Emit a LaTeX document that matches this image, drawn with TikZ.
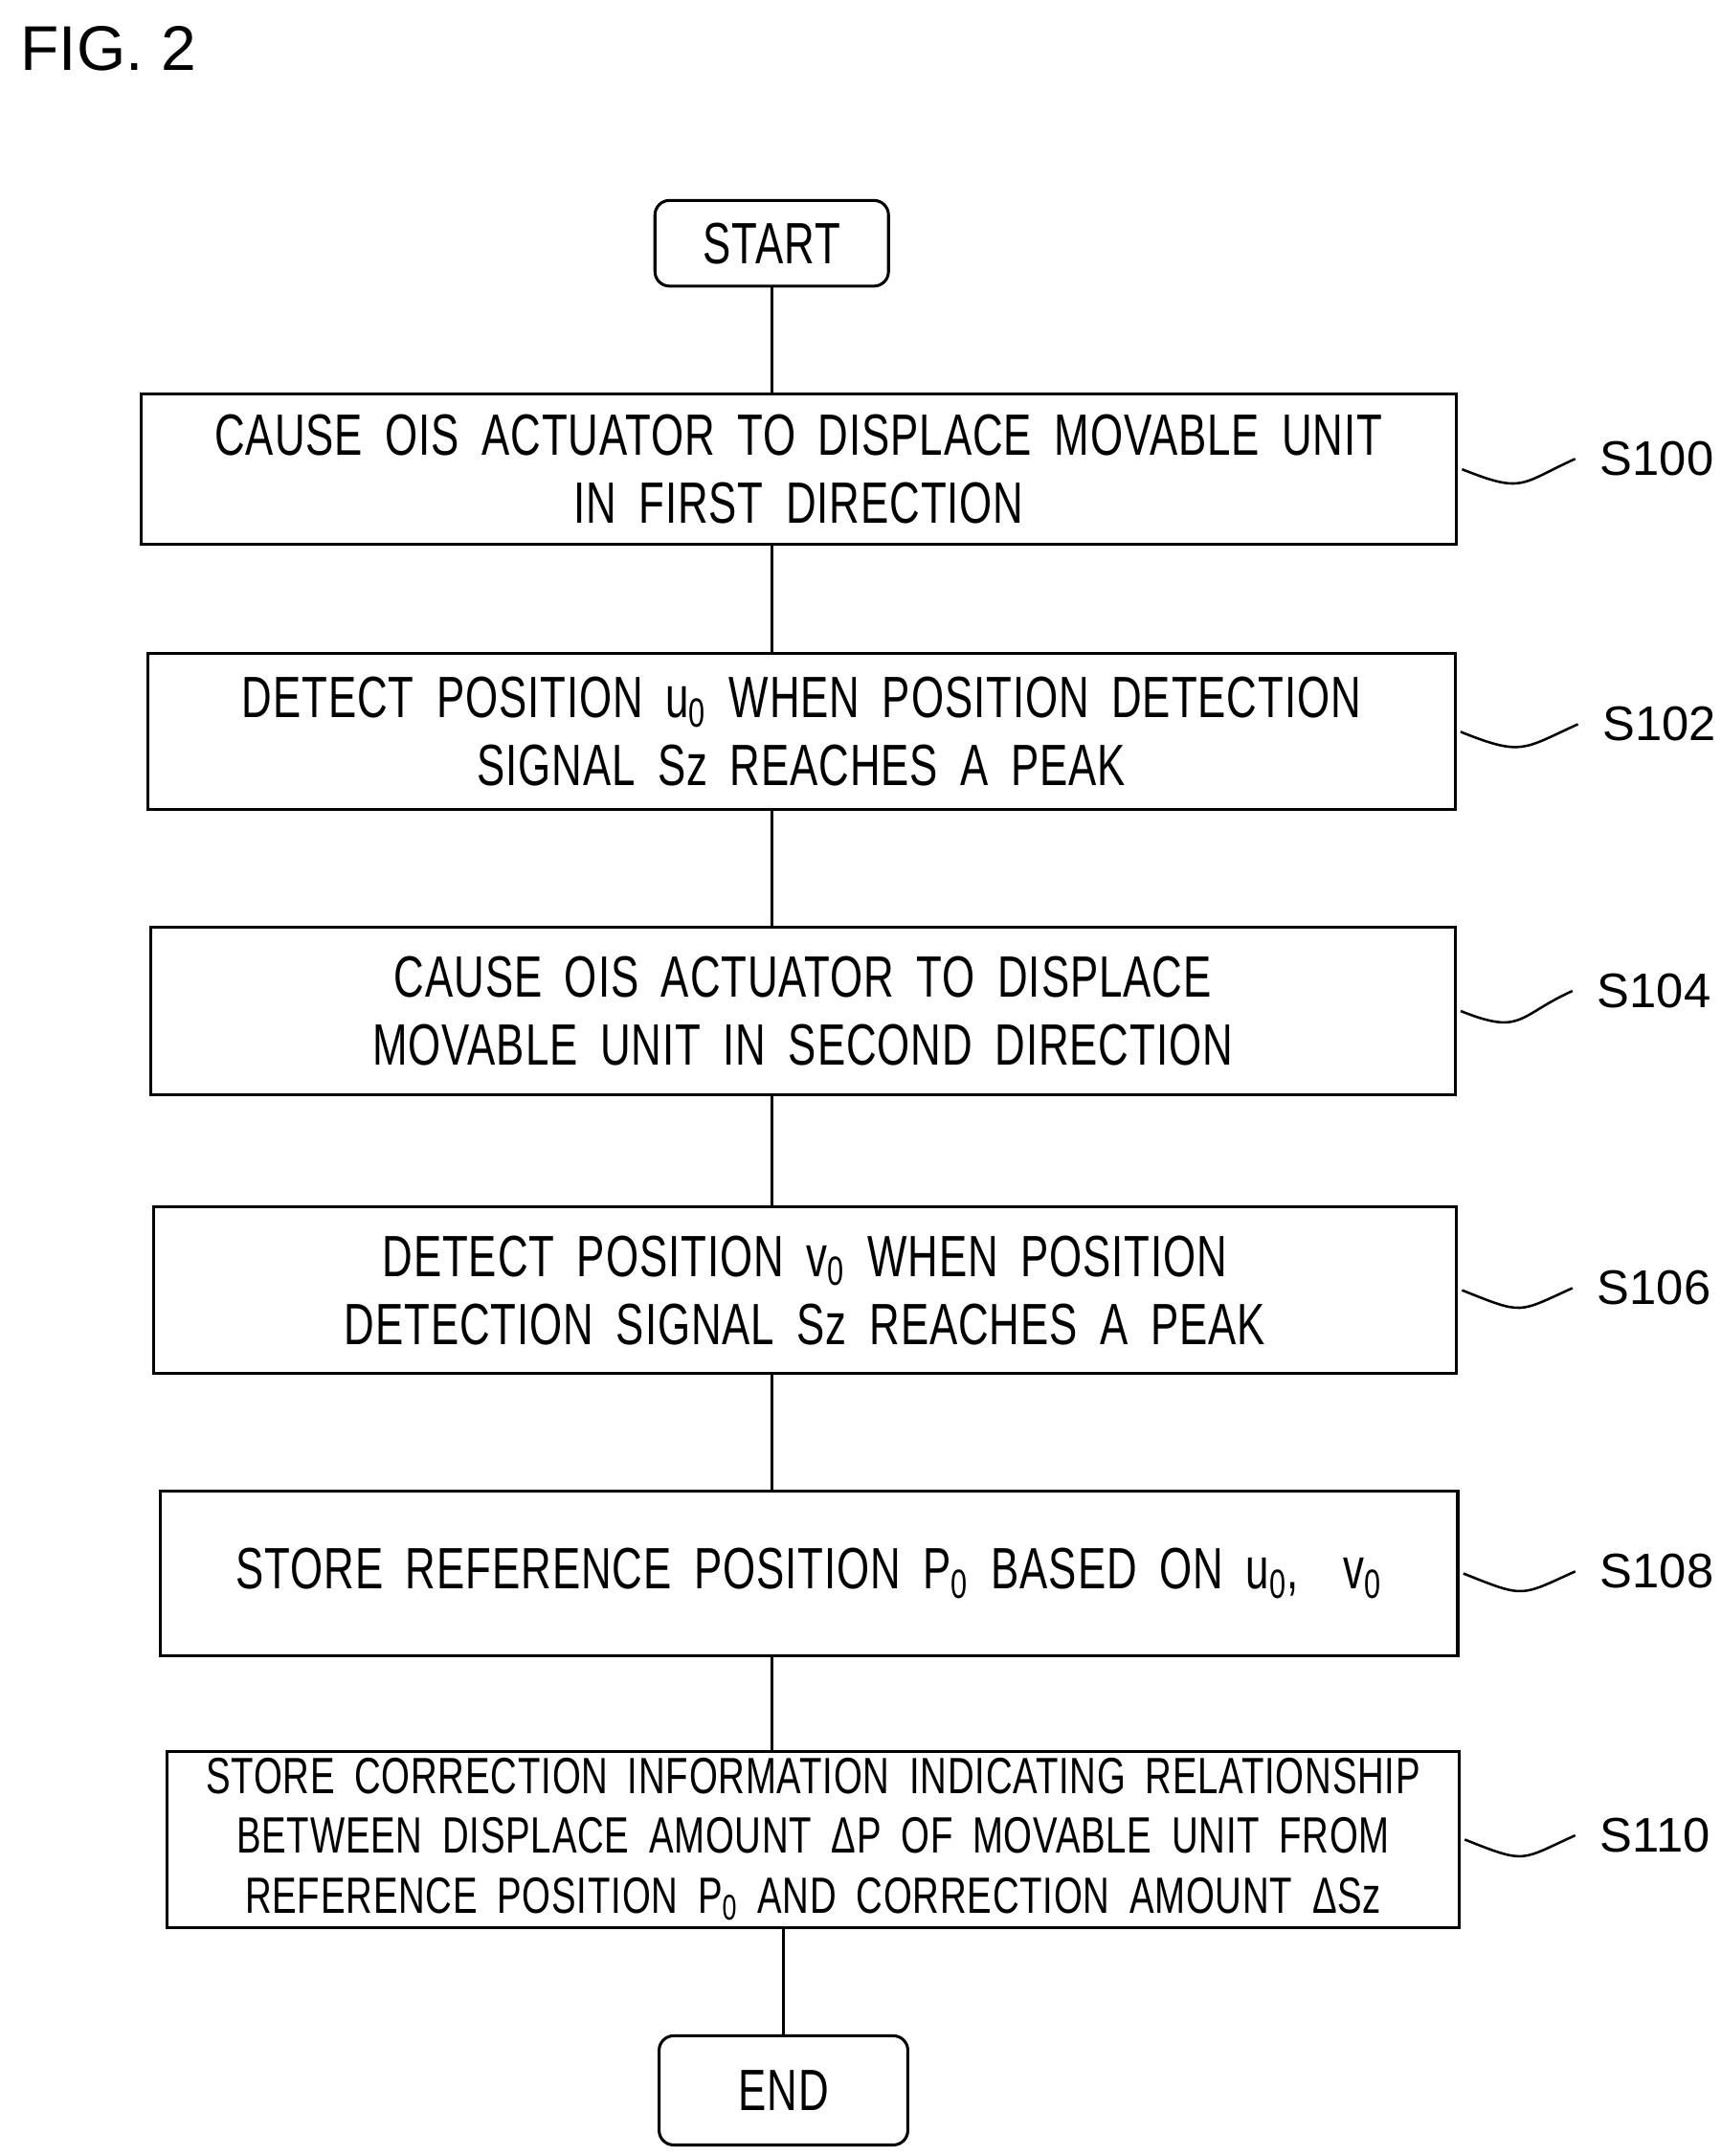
\documentclass[tikz,border=0pt]{standalone}
\usepackage{fontspec}
\setmainfont{Liberation Sans}
\newfontfamily\stepfont[FakeStretch=0.72,LetterSpace=1.5,WordSpace=1.8]{Liberation Sans}
\usetikzlibrary{positioning}
\tikzset{
    procbox/.style={
    rectangle,draw=black,line width=1.2pt,font=\stepfont\fontsize{24}{28}\selectfont,align=center,inner sep=0pt
    },
    term/.style={
    procbox,rounded corners=6pt
    },
    tag/.style={
    font=\fontsize{20}{24}\selectfont,anchor=west,inner sep=0pt
    },
}
\newcommand{\sub}[1]{\textsubscript{#1}}
\begin{document}
\begin{tikzpicture}[x=0.02cm,y=-0.02cm,line width=1.2pt]
   \useasboundingbox (0,0) rectangle (1245,1560);
   \node[anchor=west,font=\fontsize{26}{30}\selectfont] (fig) at (8,35) {FIG. 2};

   \node[term,minimum width=169*0.02cm,minimum height=62*0.02cm] (start) at (558.5,176) {START};
   \node[procbox,minimum width=952*0.02cm,minimum height=109*0.02cm] (s100) at (578,339.5)
     {CAUSE OIS ACTUATOR TO DISPLACE MOVABLE UNIT\\IN FIRST DIRECTION};
   \node[procbox,minimum width=946*0.02cm,minimum height=113*0.02cm] (s102) at (580,529.5)
     {DETECT POSITION u\sub{0} WHEN POSITION DETECTION\\SIGNAL Sz REACHES A PEAK};
   \node[procbox,minimum width=944*0.02cm,minimum height=121*0.02cm] (s104) at (581,731.5)
     {CAUSE OIS ACTUATOR TO DISPLACE\\MOVABLE UNIT IN SECOND DIRECTION};
   \node[procbox,minimum width=943*0.02cm,minimum height=121*0.02cm] (s106) at (582.5,933.5)
     {DETECT POSITION v\sub{0} WHEN POSITION\\DETECTION SIGNAL Sz REACHES A PEAK};
   \node[procbox,minimum width=939*0.02cm,minimum height=119*0.02cm] (s108) at (585.5,1138.5)
     {STORE REFERENCE POSITION P\sub{0} BASED ON u\sub{0},\ \ v\sub{0}};
   \node[procbox,minimum width=935*0.02cm,minimum height=128*0.02cm,
     font=\stepfont\fontsize{21}{24.5}\selectfont] (s110) at (588.5,1331)
     {STORE CORRECTION INFORMATION INDICATING RELATIONSHIP\\BETWEEN DISPLACE AMOUNT ΔP OF MOVABLE UNIT FROM\\REFERENCE POSITION P\sub{0} AND CORRECTION AMOUNT ΔSz};
   \node[term,minimum width=180*0.02cm,minimum height=79*0.02cm] (end) at (567,1512.5) {END};

   % step tags
   \node[tag] (t100) at (1157,332) {S100};
   \node[tag] (t102) at (1159,524) {S102};
   \node[tag] (t104) at (1155,717) {S104};
   \node[tag] (t106) at (1155,932) {S106};
   \node[tag] (t108) at (1157,1137) {S108};
   \node[tag] (t110) at (1157,1328) {S110};

   \draw (start) -- (start |- s100.north);
   \draw (s100.south -| start) -- (start |- s102.north);
   \draw (s102.south -| start) -- (start |- s104.north);
   \draw (s104.south -| start) -- (start |- s106.north);
   \draw (s106.south -| start) -- (start |- s108.north);
   \draw (s108.south -| start) -- (start |- s110.north);
   \draw (s110.south -| end) -- (end);

   \foreach \s in {100,102,104,106,108,110}{
     \draw[line width=1pt] ([xshift=3*0.02cm]s\s.east) .. controls +(45*0.02cm,-18*0.02cm) and +(-40*0.02cm,-18*0.02cm) .. ([xshift=-17*0.02cm]t\s.west);
   }
\end{tikzpicture}
\end{document}
